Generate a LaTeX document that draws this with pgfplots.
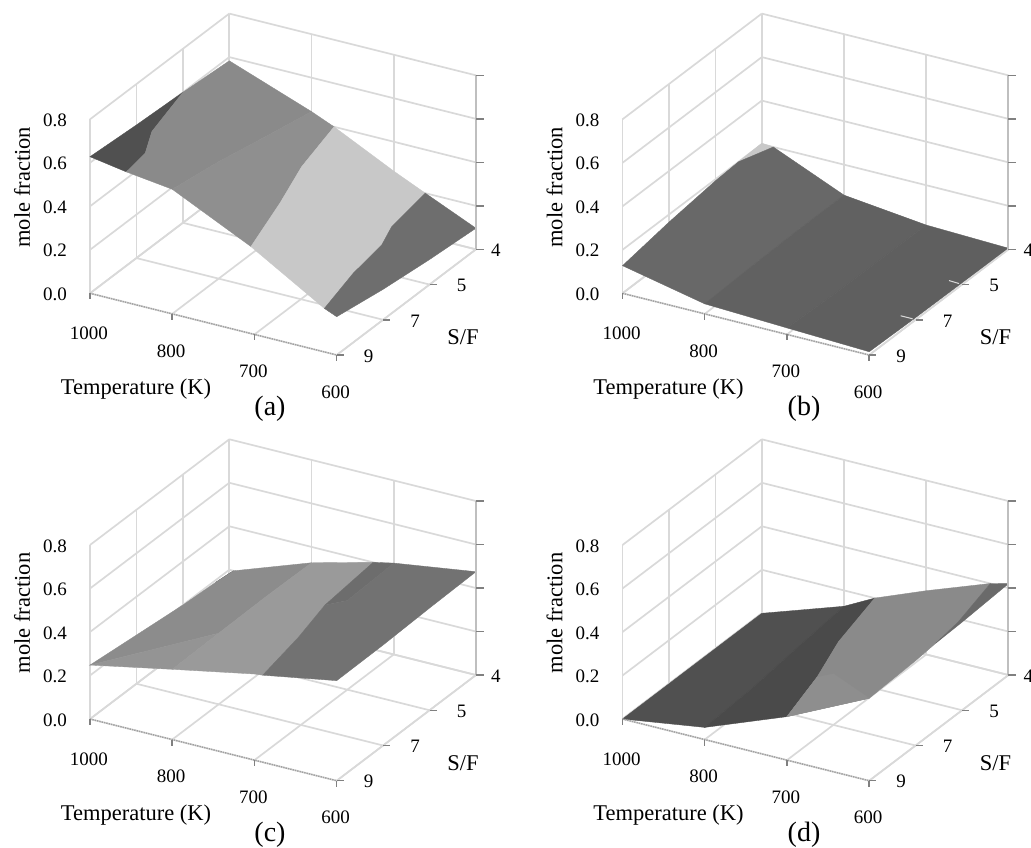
\documentclass[border=0pt]{standalone}
\usepackage{pgfplots}
\pgfplotsset{compat=1.18}
\usepackage{fontspec}
\setmainfont{Liberation Serif}
\definecolor{gridc}{HTML}{D9D9D9}
\definecolor{tickc}{HTML}{808080}
\definecolor{edgec}{HTML}{A0A0A0}
\newcommand\poly[2]{\addplot3[fill=#1,draw=#1,line width=.35pt,no marks,forget plot] coordinates {#2} -- cycle;}
\newcommand\hx[1]{\definecolor{tmpc#1}{HTML}{#1}}
\hx{505050}\hx{8A8A8A}\hx{8F8F8F}\hx{C8C8C8}\hx{6E6E6E}\hx{686868}\hx{616161}\hx{5F5F5F}\hx{8C8C8C}\hx{949494}\hx{9A9A9A}\hx{6D6D6D}\hx{727272}\hx{303030}\hx{4A4A4A}\hx{8E8E8E}\hx{6A6A6A}
\pgfplotsset{
  panel/.style={
    x={(82.23pt,-20.57pt)},y={(46.43pt,35.23pt)},z={(0pt,217.5pt)},
    anchor=origin,clip=false,
    xmin=0,xmax=3,ymin=0,ymax=3,zmin=0,zmax=0.8,
    xtick={0,1,2,3},xticklabels={\raisebox{-3pt}[\height][0pt]{1000},800,700,600},
    ytick={0,1,2,3},yticklabels={\hspace{24pt}9,\hspace{24pt}7,\hspace{24pt}5,4},
    ztick={0,0.2,0.4,0.6,0.8},zticklabels={0.0,0.2,0.4,0.6,0.8},
    grid=major,grid style={draw=gridc,line width=1.7pt},
    axis line style={draw=none},
    major tick length=0pt,
    tick label style={font=\fontsize{19}{19}\selectfont,anchor=center},
    xticklabel style={xshift=-1pt,yshift=-37pt},
    yticklabel style={xshift=20pt,yshift=-1pt},
    zticklabel style={xshift=-35pt,yshift=-1pt},
    every axis x label/.style={at={(axis cs:0,0,0)},anchor=center,xshift=46pt,yshift=-96pt,font=\fontsize{22.5}{22.5}\selectfont},
    every axis y label/.style={at={(axis cs:0,0,0)},anchor=center,xshift=373pt,yshift=-44pt,font=\fontsize{22.5}{22.5}\selectfont},
    every axis z label/.style={at={(axis cs:0,0,0)},anchor=center,rotate=90,xshift=106pt,yshift=68pt,font=\fontsize{22.5}{22.5}\selectfont},
    xlabel={Temperature (K)},ylabel={S/F},zlabel={mole fraction},
  }
}
\newcommand\furniture{%
  \draw[edgec,line width=1.4pt,densely dotted] (axis cs:0,0,0) -- (axis cs:3,0,0);
  \draw[gridc,line width=1.6pt] (axis cs:3,0,0) -- (axis cs:3,3,0);
  \draw[lightgray,line width=2pt] (axis cs:3,3,0) -- (axis cs:3,3,0.8);
  \pgfplotsinvokeforeach{0,1,2,3}{\draw[tickc,line width=1.5pt] (axis cs:##1,0,0) -- ++(0pt,-6pt);}
  \pgfplotsinvokeforeach{0,1,2}{\draw[tickc,line width=1.5pt] (axis cs:3,##1,0) -- ++(7pt,0pt);}
  \pgfplotsinvokeforeach{0,0.2,0.4,0.6,0.8}{\draw[tickc,line width=1.5pt] (axis cs:3,3,##1) -- ++(8pt,0pt);}
}
\begin{document}
\begin{tikzpicture}
\path[use as bounding box] (0pt,0pt) rectangle (1031pt,847pt);
\clip (0pt,0pt) rectangle (1031pt,847pt);

% (a)
\begin{axis}[panel,at={(90pt,553.7pt)}]
\poly{tmpc505050}{(0,0,.628)(0,1,.612)(0,2,.6)(.188,1,.6)(.389,.5,.6)(.442,0,.6)}
\poly{tmpc8A8A8A}{(.442,0,.6)(1,0,.573)(1,1,.538)(1,2,.49)(1,3,.444)(0,3,.583)(0,2,.6)(.188,1,.6)(.389,.5,.6)}
\poly{tmpc8F8F8F}{(1,0,.573)(1.957,0,.4)(1.7,1.078,.4)(1.458,1.977,.4)(1.274,3,.4)(1,3,.444)(1,2,.49)(1,1,.538)}
\poly{tmpcC8C8C8}{(1.957,0,.4)(2,0,.39)(2.85,0,.2)(2.69,.904,.2)(2.61,1.66,.2)(2.48,2.105,.2)(2.383,3,.2)(2,3,.265)(1.274,3,.4)(1.458,1.977,.4)(1.7,1.078,.4)}
\poly{tmpc6E6E6E}{(2.85,0,.2)(3,0,.176)(3,1,.14)(3,2,.115)(3,3,.097)(2.383,3,.2)(2.48,2.105,.2)(2.61,1.66,.2)(2.69,.904,.2)}
\furniture
\end{axis}
\node[font=\fontsize{28}{28}\selectfont] at (270pt,438pt) {(a)};

% (b)
\begin{axis}[panel,at={(622.5pt,553.7pt)}]
\poly{tmpcC8C8C8}{(0,2.5,.2)(0,3,.204)(.14,3,.2)}
\poly{tmpc686868}{(0,0,.127)(1,0,.046)(1,1,.055)(1,2,.06)(1,3,.06)(.14,3,.2)(0,2.5,.2)(0,2,.193)(0,1,.165)}
\poly{tmpc616161}{(1,0,.046)(2,0,.03)(2,1,.02)(2,2,.018)(2,3,.017)(1,3,.06)(1,2,.06)(1,1,.055)}
\poly{tmpc5F5F5F}{(2,0,.03)(3,0,.015)(3,1,.01)(3,2,.008)(3,3,.005)(2,3,.017)(2,2,.018)(2,1,.02)}
\furniture
\draw[gridc,line width=1pt] (axis cs:3,2,0) ++(-13pt,4pt) -- ++(10pt,-3pt);
\draw[gridc,line width=1pt] (axis cs:3,1,0) ++(-15pt,4pt) -- ++(12pt,-3pt);
\end{axis}
\node[font=\fontsize{28}{28}\selectfont] at (804pt,438pt) {(b)};

% (c)
\begin{axis}[panel,at={(90pt,128pt)}]
\poly{tmpc303030}{(0,2.7,.19)(0,3,.18)(.05,3,.2)}
\poly{tmpc8C8C8C}{(0,0,.248)(1,1,.327)(1,2,.33)(1,3,.327)(.05,3,.2)(0,2.7,.19)(0,2,.2)(0,1,.224)}
\poly{tmpc949494}{(0,0,.248)(1,0,.323)(1,1,.327)}
\poly{tmpc9A9A9A}{(1,0,.323)(2,0,.396)(2.1,0,.4)(1.97,1,.4)(1.824,1.83,.4)(1.75,3,.4)(1,3,.327)(1,2,.33)(1,1,.327)}
\poly{tmpc6D6D6D}{(1.75,3,.4)(2,3,.42)(2,2,.41)(1.824,1.83,.4)}
\poly{tmpc727272}{(2.1,0,.4)(3,0,.46)(3,1,.462)(3,2,.47)(3,3,.475)(2,3,.42)(2,2,.41)(1.824,1.83,.4)(1.97,1,.4)}
\furniture
\end{axis}
\node[font=\fontsize{28}{28}\selectfont] at (270pt,12pt) {(c)};

% (d)
\begin{axis}[panel,at={(622.5pt,128pt)}]
\poly{tmpc505050}{(0,0,0)(1,0,.056)(1,1,.07)(1,2,.1)(1,3,.127)(0,3,0)(0,2,0)(0,1,0)}
\poly{tmpc4A4A4A}{(1,0,.056)(2,0,.2)(1.8,1,.2)(1.568,1.875,.2)(1.374,3,.2)(1,3,.127)(1,2,.1)(1,1,.07)}
\poly{tmpc8A8A8A}{(2,0,.2)(3,0,.379)(3,1,.39)(3,1.43,.4)(2.95,2,.4)(2.78,3,.4)(2,3,.293)(1.374,3,.2)(1.568,1.875,.2)(1.8,1,.2)}
\poly{tmpc8E8E8E}{(2,0,.2)(3,0,.379)(2,1,.235)(1.8,1,.2)}
\poly{tmpc6A6A6A}{(3,1.43,.4)(3,2,.405)(3,3,.42)(2.78,3,.4)(2.95,2,.4)}
\furniture
\end{axis}
\node[font=\fontsize{28}{28}\selectfont] at (804pt,12pt) {(d)};
\end{tikzpicture}
\end{document}
